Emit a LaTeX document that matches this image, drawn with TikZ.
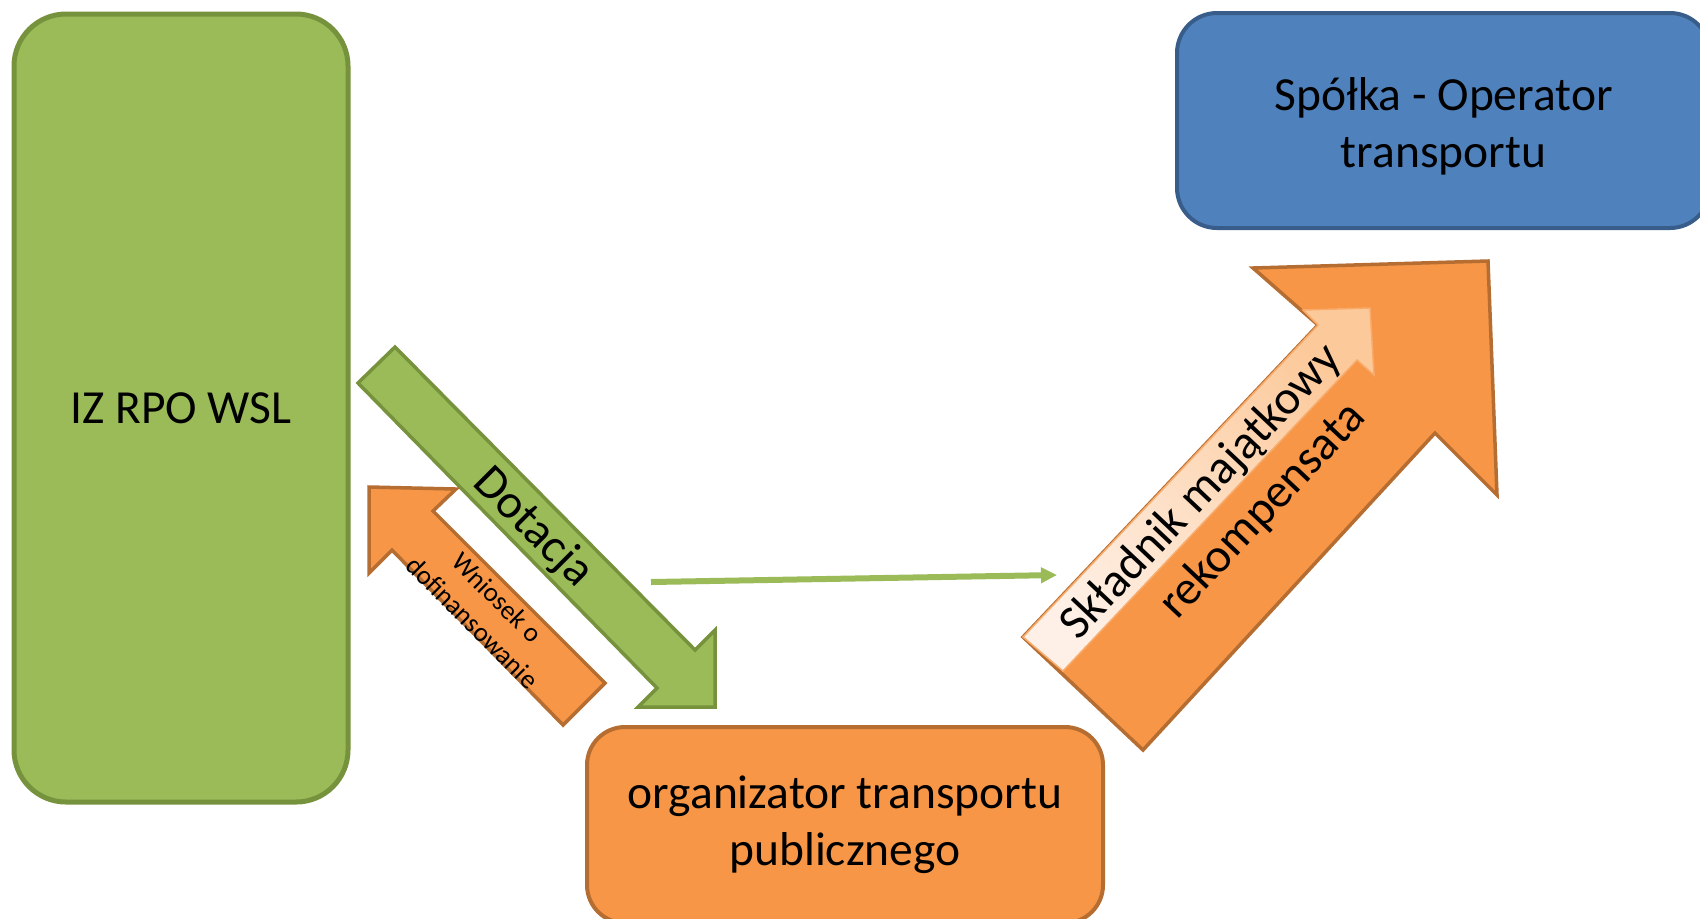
\documentclass[tikz,border=0pt]{standalone}
\usepackage{fontspec}
\setmainfont{Carlito}
\usetikzlibrary{arrows.meta}

\definecolor{ogreen}{HTML}{9BBB59}
\definecolor{ogreenline}{HTML}{76923C}
\definecolor{oblue}{HTML}{4F81BD}
\definecolor{oblueline}{HTML}{385D8A}
\definecolor{oorange}{HTML}{F79646}
\definecolor{oorangeline}{HTML}{B66D31}
\definecolor{lighttail}{HTML}{FEF0E6}
\definecolor{lighttip}{HTML}{FCC99A}

\begin{document}
\begin{tikzpicture}[x=0.5pt, y=-0.5pt,
    box/.style={rounded corners=20pt, align=center, inner sep=0pt, line width=2pt,
        font=\fontsize{23.75}{28.5}\selectfont},
    blockarrow/.style={line width=1.75pt, line join=miter},
    arrowtext/.style={inner sep=0pt, align=center, font=\fontsize{24}{29}\selectfont},
    smalltext/.style={inner sep=0pt, align=center, font=\fontsize{13.5}{17.5}\selectfont}]

    \useasboundingbox (0,0) rectangle (1700,918);

    \node[box, fill=ogreen, draw=ogreenline, line width=2.5pt, rounded corners=26pt,
        minimum width=167pt, minimum height=394pt] (izrpo) at (181,408) {IZ RPO WSL};
    \node[box, fill=oblue, draw=oblueline,
        minimum width=266.5pt, minimum height=107.5pt] (spolka) at (1443.5,120.5) {};
    \node[box, draw=none] (spolkatext) at ([yshift=-3pt]spolka.center) {Spółka - Operator\\transportu};
    \node[box, fill=oorange, draw=oorangeline, rounded corners=19pt,
        minimum width=258pt, minimum height=98pt] (organizator) at (845,825) {organizator transportu\\publicznego};

    \draw[blockarrow, fill=ogreen, draw=ogreenline] (358,383) -- (395,347) -- (695,650) -- (715,630)
        -- (715,707) -- (638,707) -- (657,688) -- cycle;
    \node[arrowtext, rotate=-45] (dotacja) at (533,528) {Dotacja};

    \draw[blockarrow, fill=oorange, draw=oorangeline] (369,487) -- (456,489) -- (433,511) -- (605,683)
        -- (563,725) -- (392,550) -- (369,573) -- cycle;
    \node[smalltext, rotate=-45] (wniosek) at (485,610) {Wniosek o\\dofinansowanie};

    \draw[blockarrow, fill=oorange, draw=oorangeline] (1023,637) -- (1318,325) -- (1253,268) -- (1488,261)
        -- (1497,495) -- (1435,433) -- (1143,750) -- cycle;
    \draw[line width=0.75pt, draw=oorange!80!white, top color=lighttip, bottom color=lighttail, shading angle=-45]
        (1023,637) -- (1318,325) -- (1303,310) -- (1370,308) -- (1374,375) -- (1357,360) -- (1063,671) -- cycle;
    \node[arrowtext, rotate=46.7] (skladnik) at (1202,492) {Składnik majątkowy};
    \node[arrowtext, rotate=46.7] (rekompensata) at (1263,511) {rekompensata};

    \coordinate (linestart) at (651,582);
    \coordinate (lineend) at (1057,575);
    \draw[ogreen, line width=3pt, -{Triangle[length=8pt, width=7.5pt]}] (linestart) -- (lineend);
\end{tikzpicture}
\end{document}
